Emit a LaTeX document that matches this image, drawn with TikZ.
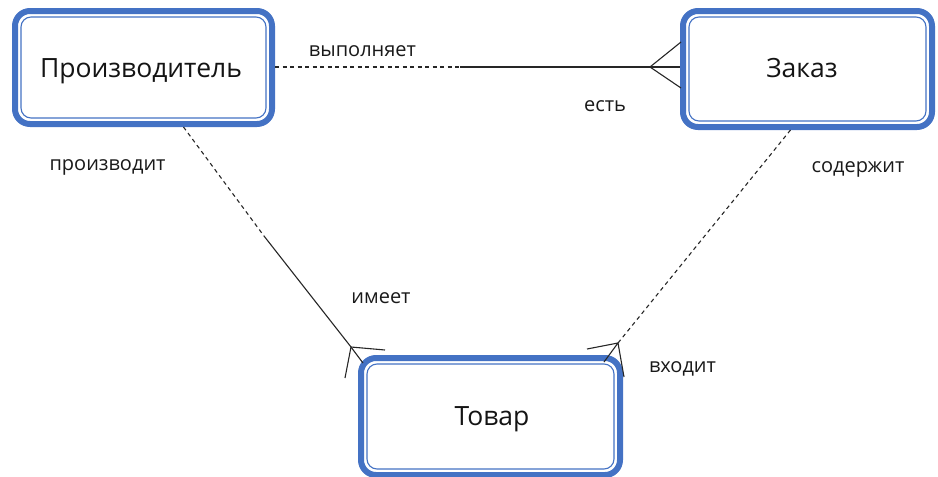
\documentclass[tikz,border=0pt]{standalone}
\usepackage{fontspec}
\setmainfont{Open Sans}
\usetikzlibrary{calc}
\definecolor{boxblue}{HTML}{4472C4}
\tikzset{
  entity/.style={draw=boxblue, line width=6pt, rounded corners=15pt, fill=white,
    inner sep=0pt},
  entityname/.style={anchor=base, font=\fontsize{26.5}{30}\selectfont, text=black!92},
  frameline/.style={draw=boxblue, line width=1.1pt, rounded corners=10pt},
  rel/.style={anchor=base, font=\fontsize{20}{24}\selectfont, text=black!90},
  link/.style={draw=black!85, line width=1.1pt},
  dlink/.style={link, dash pattern=on 4pt off 3.5pt},
}
% thin second outline inside an entity box (anchors sit 3pt outside the path)
\newcommand{\innerframe}[1]{%
  \draw[frameline] ([shift={(9pt,-9pt)}]#1.north west) rectangle ([shift={(-9pt,9pt)}]#1.south east);}
\begin{document}
\begin{tikzpicture}[x=1pt, y=-1pt]
\useasboundingbox (0,0) rectangle (938,477);

% entities
\node[entity, minimum width=257pt, minimum height=113pt] (p) at (143.5,67.5) {};
\innerframe{p}
\node[entity, minimum width=249pt, minimum height=116pt] (z) at (807.5,69) {};
\innerframe{z}
\node[entity, minimum width=259pt, minimum height=117pt] (t) at (490.5,416.5) {};
\innerframe{t}
\node[entityname] (p-name) at (141,77) {Производитель};
\node[entityname] (z-name) at (802,77) {Заказ};
\node[entityname] (t-name) at (492,425) {Товар};

% Производитель -- Заказ
\coordinate (pz-mid) at (460,67);
\coordinate (pz-foot) at ($(z.west)+(-30,-2)$);
\draw[dlink] (p.east |- pz-mid) -- (pz-mid);
\draw[link] (pz-mid) -- (pz-foot);
\draw[link] ($(z.west)+(1,-27)$) -- (pz-foot) -- ($(z.west)+(1,19)$);
\draw[link] (pz-foot) -- (z.west |- pz-foot);

% Производитель -- Товар
\coordinate (pt-start) at ($(p.south)+(40,0)$);
\coordinate (pt-mid) at (264,236);
\coordinate (pt-foot) at (351,347);
\draw[dlink] (pt-start) -- (pt-mid);
\draw[link] (pt-mid) -- (pt-foot) -- (363,363);
\draw[link] (385,350) -- (pt-foot) -- (345,378);

% Заказ -- Товар
\coordinate (zt-start) at ($(z.south)+(-17,0)$);
\coordinate (zt-foot) at (618,343);
\draw[dlink] (zt-start) -- (zt-foot);
\draw[link] (587,349) -- (zt-foot) -- (624,377);
\draw[link] (zt-foot) -- (604,362);

% relationship labels
\node[rel] (l1) at (362.5,56) {выполняет};
\node[rel] (l2) at (605,111) {есть};
\node[rel] (l3) at (107.5,170) {производит};
\node[rel] (l4) at (381,303) {имеет};
\node[rel] (l5) at (858,172) {содержит};
\node[rel] (l6) at (682.5,372) {входит};
\end{tikzpicture}
\end{document}
